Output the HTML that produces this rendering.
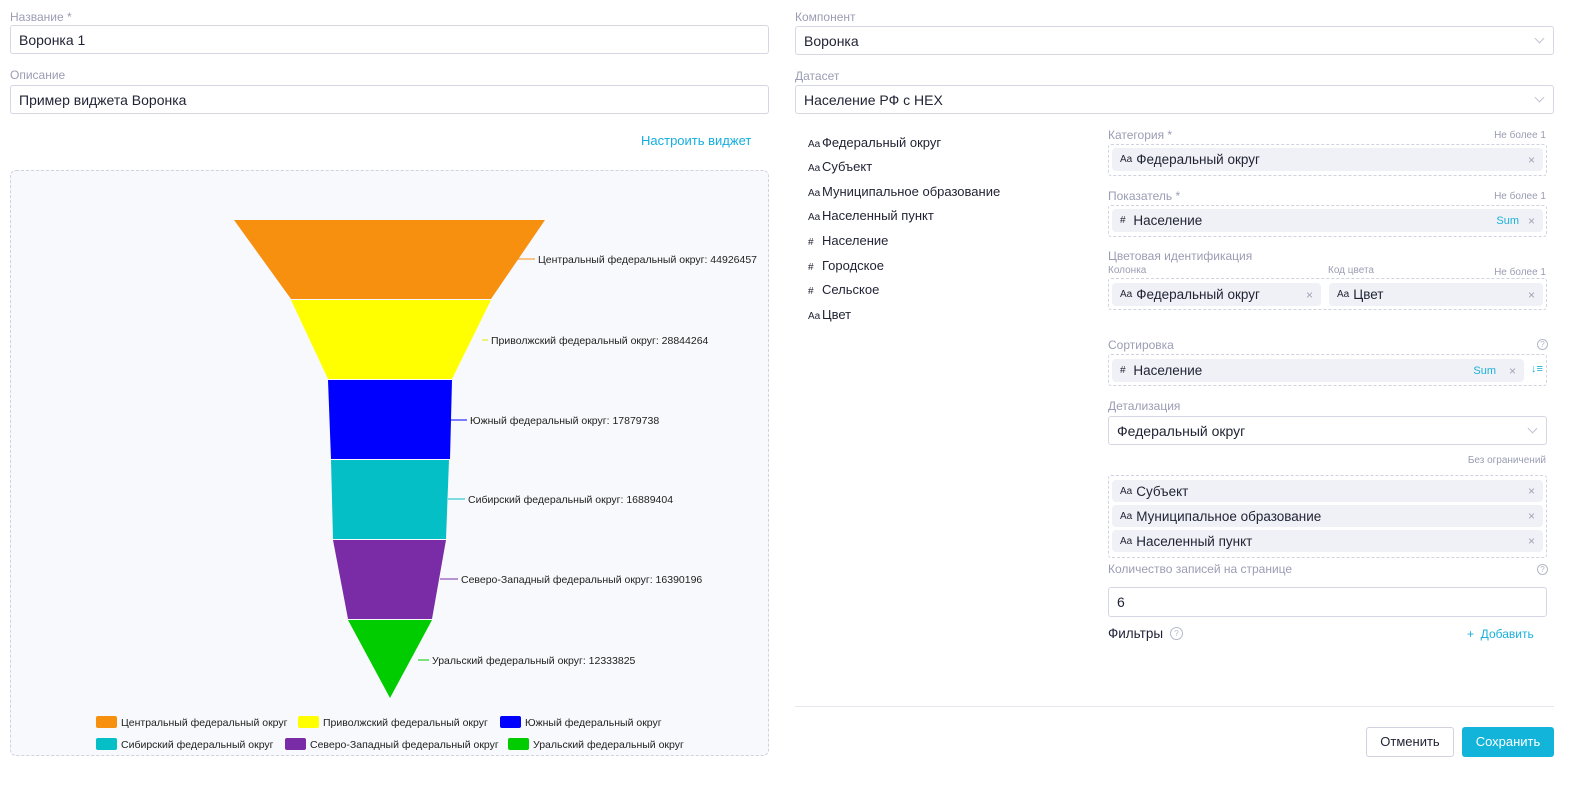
<!DOCTYPE html>
<html><head><meta charset="utf-8"><style>
*{box-sizing:border-box;margin:0;padding:0}
body{width:1589px;height:785px;background:#fff;font-family:"Liberation Sans",sans-serif;position:relative;overflow:hidden;color:#1f2233}
.a{position:absolute;white-space:nowrap}
.lbl{font-size:12px;color:#9a9db3}
.inp{position:absolute;border:1px solid #d5d7e3;border-radius:3px;background:#fff;font-size:14px;padding-left:8px;display:flex;align-items:center}
.dash{position:absolute;border:1px dashed #d0d2de;border-radius:3px}
.chip{position:absolute;background:#f0f1f6;border-radius:4px;font-size:13.5px;display:flex;align-items:center;padding-left:8px}
.chip .ic{font-size:10px;margin-right:4px}
.x{position:absolute;right:8px;color:#a0a3b5;font-size:12px}
.sum{position:absolute;color:#1ab0d8;font-size:11px}
.fl{position:absolute;left:808px;font-size:13px}
.fl i{font-style:normal;font-size:10px;display:inline-block;width:14px}
.sm{font-size:10px;color:#9a9db3}
.chev{position:absolute;right:10px;top:8px;width:7px;height:7px;border-right:1px solid #c0c3d0;border-bottom:1px solid #c0c3d0;transform:rotate(45deg)}
.q{position:absolute;width:11px;height:11px;border:1px solid #b5b8c8;border-radius:50%;font-size:8px;color:#b5b8c8;text-align:center;line-height:9px}
</style></head><body>
<div class="a lbl" style="left:10px;top:10px">Название *</div>
<div class="inp" style="left:10px;top:25px;width:759px;height:29px">Воронка 1</div>
<div class="a lbl" style="left:10px;top:68px">Описание</div>
<div class="inp" style="left:10px;top:85px;width:759px;height:29px">Пример виджета Воронка</div>
<div class="a" style="left:641px;top:133px;font-size:13px;color:#12aee0">Настроить виджет</div>

<div class="dash" style="left:10px;top:170px;width:759px;height:586px;background:#f8f9fc;border-radius:6px"></div>
<svg class="a" style="left:0;top:0" width="780" height="785" font-family="Liberation Sans" font-size="10.5" fill="#222">
<polygon points="234,220 545,220 491,299 291,299" fill="#f7900f"/>
<polygon points="291,300 491,300 452,379 328,379" fill="#ffff00"/>
<polygon points="328,380 452,380 450,459 331,459" fill="#0000ff"/>
<polygon points="331,460 449,460 446,539 333,539" fill="#04bfc6"/>
<polygon points="333,540 446,540 432,619 348,619" fill="#7a2ca6"/>
<polygon points="348,620 432,620 390,698" fill="#00cc00"/>
<line x1="518" y1="259" x2="535" y2="259" stroke="#f7900f"/><text x="538" y="263">Центральный федеральный округ: 44926457</text>
<line x1="482" y1="340" x2="488" y2="340" stroke="#e6e600"/><text x="491" y="344">Приволжский федеральный округ: 28844264</text>
<line x1="451" y1="420" x2="467" y2="420" stroke="#0000ff"/><text x="470" y="424">Южный федеральный округ: 17879738</text>
<line x1="448" y1="499" x2="465" y2="499" stroke="#04bfc6"/><text x="468" y="503">Сибирский федеральный округ: 16889404</text>
<line x1="440" y1="579" x2="458" y2="579" stroke="#7a2ca6"/><text x="461" y="583">Северо-Западный федеральный округ: 16390196</text>
<line x1="418" y1="660" x2="429" y2="660" stroke="#00cc00"/><text x="432" y="664">Уральский федеральный округ: 12333825</text>
<rect x="96" y="716" width="21" height="12" rx="2" fill="#f7900f"/><text x="121" y="726">Центральный федеральный округ</text>
<rect x="298" y="716" width="21" height="12" rx="2" fill="#ffff00"/><text x="323" y="726">Приволжский федеральный округ</text>
<rect x="500" y="716" width="21" height="12" rx="2" fill="#0000ff"/><text x="525" y="726">Южный федеральный округ</text>
<rect x="96" y="738" width="21" height="12" rx="2" fill="#04bfc6"/><text x="121" y="748">Сибирский федеральный округ</text>
<rect x="285" y="738" width="21" height="12" rx="2" fill="#7a2ca6"/><text x="310" y="748">Северо-Западный федеральный округ</text>
<rect x="508" y="738" width="21" height="12" rx="2" fill="#00cc00"/><text x="533" y="748">Уральский федеральный округ</text>
</svg>

<div class="a lbl" style="left:795px;top:10px">Компонент</div>
<div class="inp" style="left:795px;top:26px;width:759px;height:29px">Воронка<span class="chev"></span></div>
<div class="a lbl" style="left:795px;top:69px">Датасет</div>
<div class="inp" style="left:795px;top:85px;width:759px;height:29px">Население РФ с HEX<span class="chev"></span></div>

<div class="fl" style="top:135px"><i>Aa</i>Федеральный округ</div>
<div class="fl" style="top:159px"><i>Aa</i>Субъект</div>
<div class="fl" style="top:184px"><i>Aa</i>Муниципальное образование</div>
<div class="fl" style="top:208px"><i>Aa</i>Населенный пункт</div>
<div class="fl" style="top:233px"><i>#</i>Население</div>
<div class="fl" style="top:258px"><i>#</i>Городское</div>
<div class="fl" style="top:282px"><i>#</i>Сельское</div>
<div class="fl" style="top:307px"><i>Aa</i>Цвет</div>

<div class="a lbl" style="left:1108px;top:128px">Категория *</div><div class="a sm" style="right:43px;top:130px">Не более 1</div>
<div class="dash" style="left:1108px;top:144px;width:439px;height:32px"></div>
<div class="chip" style="left:1112px;top:148px;width:431px;height:23px"><span class="ic">Aa</span>Федеральный округ<span class="x">×</span></div>

<div class="a lbl" style="left:1108px;top:189px">Показатель *</div><div class="a sm" style="right:43px;top:191px">Не более 1</div>
<div class="dash" style="left:1108px;top:205px;width:439px;height:32px"></div>
<div class="chip" style="left:1112px;top:209px;width:431px;height:23px"><span class="ic">#</span>&nbsp;Население<span class="sum" style="right:24px">Sum</span><span class="x">×</span></div>

<div class="a lbl" style="left:1108px;top:249px">Цветовая идентификация</div>
<div class="a sm" style="left:1108px;top:265px">Колонка</div><div class="a sm" style="left:1328px;top:265px">Код цвета</div><div class="a sm" style="right:43px;top:267px">Не более 1</div>
<div class="dash" style="left:1108px;top:278px;width:439px;height:32px"></div>
<div class="chip" style="left:1112px;top:283px;width:209px;height:23px"><span class="ic">Aa</span>Федеральный округ<span class="x">×</span></div>
<div class="chip" style="left:1329px;top:283px;width:214px;height:23px"><span class="ic">Aa</span>Цвет<span class="x">×</span></div>

<div class="a lbl" style="left:1108px;top:338px">Сортировка</div><div class="q" style="left:1537px;top:339px">?</div>
<div class="dash" style="left:1108px;top:354px;width:439px;height:32px"></div>
<div class="chip" style="left:1112px;top:359px;width:412px;height:23px"><span class="ic">#</span>&nbsp;Население<span class="sum" style="right:28px">Sum</span><span class="x">×</span></div>
<div class="a" style="left:1531px;top:363px;color:#1ab0d8;font-size:11px">↓≡</div>

<div class="a lbl" style="left:1108px;top:399px">Детализация</div>
<div class="inp" style="left:1108px;top:416px;width:439px;height:29px">Федеральный округ<span class="chev"></span></div>
<div class="a sm" style="right:43px;top:455px">Без ограничений</div>
<div class="dash" style="left:1108px;top:475px;width:439px;height:83px"></div>
<div class="chip" style="left:1112px;top:480px;width:431px;height:22px"><span class="ic">Aa</span>Субъект<span class="x">×</span></div>
<div class="chip" style="left:1112px;top:505px;width:431px;height:22px"><span class="ic">Aa</span>Муниципальное образование<span class="x">×</span></div>
<div class="chip" style="left:1112px;top:530px;width:431px;height:22px"><span class="ic">Aa</span>Населенный пункт<span class="x">×</span></div>

<div class="a lbl" style="left:1108px;top:562px">Количество записей на странице</div><div class="q" style="left:1537px;top:564px">?</div>
<div class="inp" style="left:1108px;top:587px;width:439px;height:30px">6</div>
<div class="a" style="left:1108px;top:626px;font-size:13.5px">Фильтры</div><div class="q" style="left:1170px;top:627px;width:13px;height:13px;line-height:11px">?</div>
<div class="a" style="left:1467px;top:627px;font-size:12px;color:#1ab0d8">+&nbsp; Добавить</div>

<div class="a" style="left:795px;top:706px;width:759px;height:1px;background:#e6e7ee"></div>
<div class="a" style="left:1366px;top:727px;width:88px;height:30px;border:1px solid #d0d2de;border-radius:3px;font-size:13px;text-align:center;line-height:28px">Отменить</div>
<div class="a" style="left:1462px;top:727px;width:92px;height:30px;background:#12b4d9;border-radius:3px;font-size:13px;color:#fff;text-align:center;line-height:30px">Сохранить</div>
</body></html>
